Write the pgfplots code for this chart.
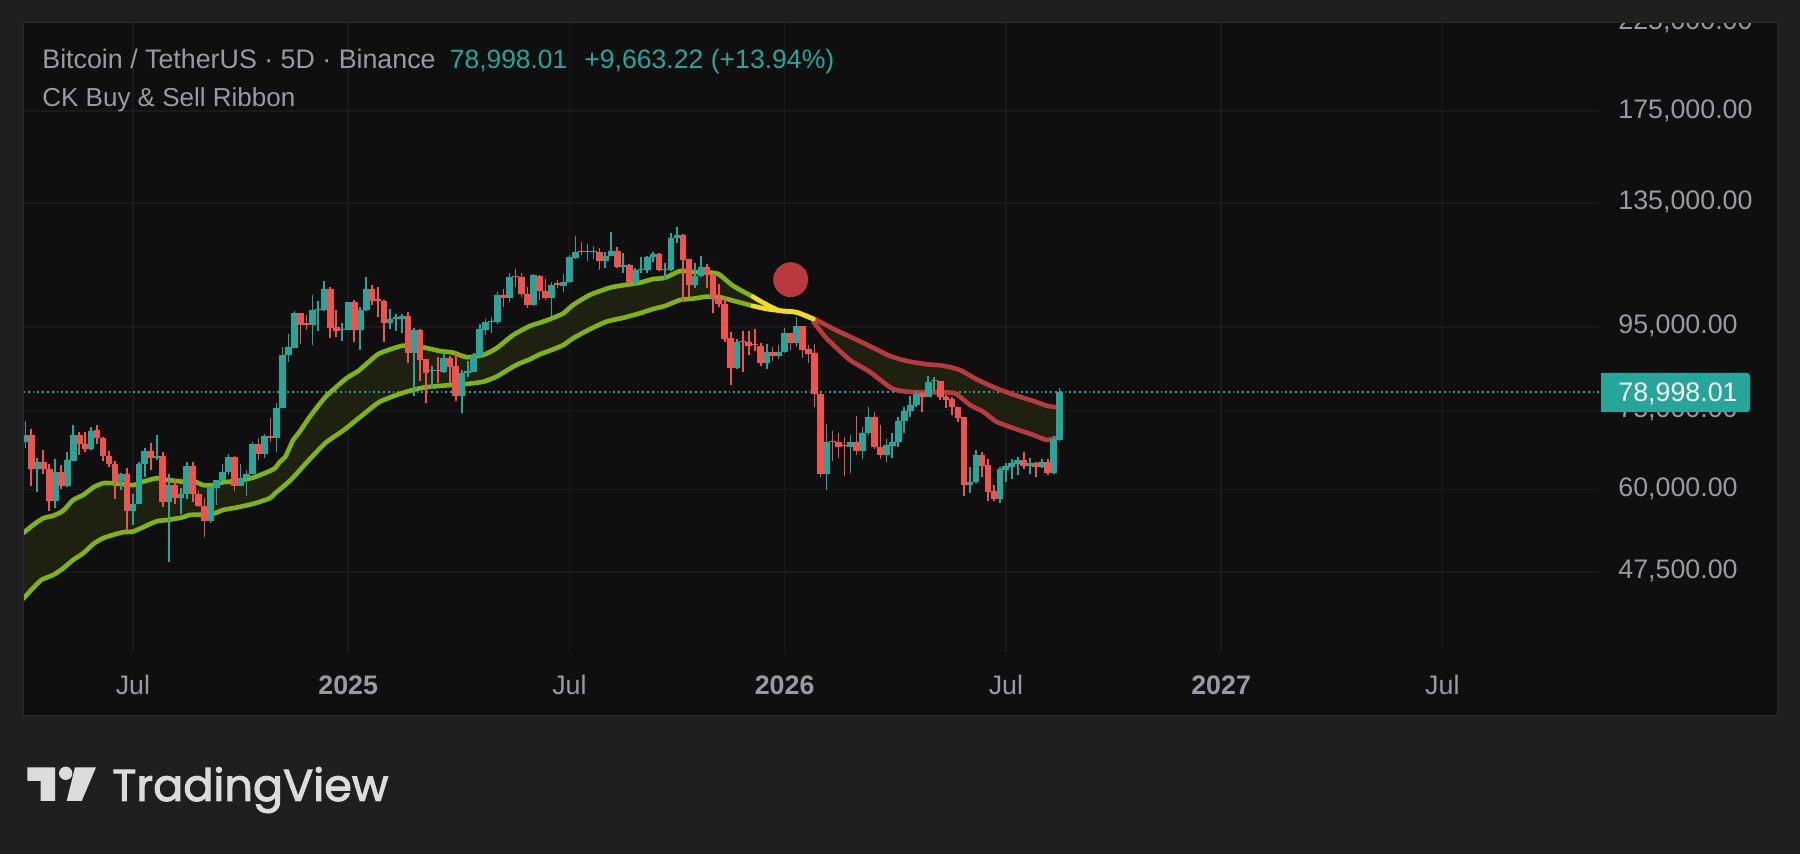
\documentclass[border=0pt]{standalone}
\usepackage{pgfplots}
\usepackage{pgfplotstable}
\usepackage{fontspec}
\pgfplotsset{compat=1.18}
\setmainfont{Liberation Sans}
\newfontfamily\tvfont[FakeBold=2.2]{Poppins}
\definecolor{outer}{HTML}{1F1F1F}
\definecolor{panel}{HTML}{0F0F0F}
\definecolor{gridc}{HTML}{1A1A1A}
\definecolor{edge}{HTML}{2B2B2B}
\definecolor{up}{HTML}{26A69A}
\definecolor{down}{HTML}{EF5350}
\definecolor{lime}{HTML}{7FB414}
\definecolor{ribfill}{HTML}{1E2010}
\definecolor{ribred}{HTML}{B83A3E}
\definecolor{ribyel}{HTML}{F5DC24}
\definecolor{lab}{HTML}{9A9AA2}
\definecolor{logo}{HTML}{DCDCDC}

% candles: bar, high, body top, body bottom, low
\pgfplotstableread{
i h t b l
0 72800 70000 68700 67500
2 65500 64800 63550 59600
5 65300 63000 58050 56900
7 66650 65150 60500 60450
8 71900 69950 65000 64950
11 71500 70850 67200 67075
16 62800 62650 61450 59900
18 59300 57600 56400 54200
19 64800 64450 57600 57550
20 67500 66950 64450 62100
22 70000 66000 65600 65200
24 62650 60750 57950 48850
26 60250 59200 58500 55950
27 64750 64100 59200 58450
31 60550 60350 54800 54500
32 61600 61600 60300 57350
33 64550 63100 61600 61550
34 66300 65800 63100 62500
36 64400 62000 60550 60500
37 63300 62700 62000 58900
38 68700 68300 62650 62600
40 70200 69800 66400 65500
42 76700 75600 69300 66750
43 89700 87750 75600 75550
44 93140 89700 87750 86100
45 99400 98750 89600 89450
48 104000 99600 95550 90300
49 102250 99850 99600 94000
50 108100 105800 99700 99500
53 96000 94450 94300 91300
54 102050 101950 94300 94250
56 100600 99700 94300 89100
57 109300 105800 99700 99500
61 99850 97050 96050 94550
62 98450 97700 97150 93900
63 98450 98000 97150 93300
65 94750 94200 88250 78150
68 85050 84100 83800 79700
70 88600 87100 83550 83300
73 84100 83300 78200 74550
74 86300 83900 83300 82500
75 88150 87450 83700 83650
76 95800 94400 87450 87200
77 97250 96450 94200 92800
78 97600 96700 96350 93300
79 104800 104000 96450 95800
81 110550 109300 103250 101950
85 110350 110050 101100 100900
88 107800 107000 103000 98100
90 110250 108000 106700 104900
91 116600 115800 108000 107500
92 122900 117550 115500 115050
94 120100 117650 117450 114600
95 119500 117900 117550 115250
97 117550 116200 114500 112350
98 124300 117900 116200 116100
100 117000 113200 112700 110550
102 112350 111600 107800 107000
103 115900 111950 111600 110550
104 116100 115800 111600 110750
105 117550 116900 115650 114300
107 113750 112050 111850 108500
108 123800 122100 111600 111400
109 125950 123250 122100 120600
112 113750 109850 107000 106000
113 116100 112550 109750 109550
119 91700 91050 84500 84450
124 90550 88400 85850 84350
126 90300 88600 87500 86700
127 94650 93300 88400 88150
129 97800 95350 90700 89850
134 72130 68600 62700 59900
138 70000 68600 67700 62900
140 71500 70300 66950 65450
141 75850 73700 70300 70000
144 69200 68000 66200 64900
145 70300 68600 67900 65600
146 73600 72900 68600 67600
147 75850 74900 72900 70450
148 78150 76200 74900 73700
149 79300 78600 76100 75850
151 82700 81200 78000 77850
152 82400 81700 81450 79350
158 64000 61300 60750 59400
159 67050 66100 61250 61150
163 63850 63500 58300 57650
164 64600 64100 63450 61250
165 65450 64650 63950 61850
166 65700 65150 64500 62500
168 65500 64700 64100 62700
170 65350 64850 63850 63700
172 69750 69200 62800 62700
173 79900 78998.01 69000 68800
}\upbars
\pgfplotstableread{
i h t b l
1 71100 70000 63550 60550
3 67100 64800 63550 62650
4 64550 63550 58050 56500
6 64200 63000 60500 60100
9 70500 69950 68200 66200
10 70500 68300 67200 66600
12 71900 70900 69400 68300
13 69500 69450 66000 65000
14 66950 66000 64500 64000
15 65000 64550 61450 58350
17 63800 62650 56400 53490
21 68400 66950 65600 63400
23 66700 66000 57950 57000
25 61700 60750 58500 57550
28 64800 64100 59200 57850
29 59800 59200 57250 57050
30 58500 57300 54800 52500
35 65900 65800 60600 59800
39 69300 68300 66400 65200
41 73400 69800 69300 68700
46 98750 98700 95640 90540
47 98200 96000 95650 94200
51 106300 105800 94850 92000
52 99700 95000 93900 92350
55 102536 101950 94300 90950
58 106900 105800 102350 101100
59 106300 102700 102350 97700
60 102450 102250 96050 91100
64 99200 98100 88250 85900
66 94400 94200 86500 81450
67 86700 86650 83400 76550
69 87200 84100 83800 81150
71 87500 87100 84900 81000
72 88150 85050 78200 77050
80 105700 104000 103250 100600
82 111950 109600 109300 106500
83 110550 109300 104200 103300
84 106500 104300 101200 100350
86 109950 109900 105300 102550
87 108700 105300 103000 102550
89 108400 107500 107100 106200
93 120700 117900 117450 116450
96 118700 117550 114500 111600
99 119050 117900 112450 112350
101 113500 113150 107900 107500
106 117100 116900 111500 111400
110 123600 123250 114800 102050
111 115050 115000 107000 103300
114 113450 112550 110050 106000
115 110350 110300 103000 98900
116 107250 103200 101400 100650
117 103850 101500 91800 91150
118 93650 92000 84500 80500
120 93900 91200 90950 83700
121 93800 91050 90100 87700
122 94400 90450 90200 88850
123 90700 90100 85850 85050
125 89700 88400 87500 86350
128 93350 93300 90850 89000
130 95350 95300 89000 87100
131 90300 89200 88000 85700
132 90550 88150 78600 75700
133 79100 78600 62700 62200
135 70850 68750 68550 65100
136 70300 68600 67700 65500
137 69650 67950 67750 62350
139 73900 68600 66950 66100
142 74600 73700 67600 67200
143 72000 67700 66200 65450
150 79100 78900 78000 74750
153 81550 81500 77850 77250
154 78400 77950 77250 75450
155 77850 77400 75700 74050
156 75850 75700 73450 72650
157 73700 73550 60750 58800
160 66750 66050 64100 62200
161 65400 64200 59600 58000
162 60750 59650 58300 58000
167 66750 65150 64100 63500
169 64900 64700 63850 62200
171 65350 64850 62800 62400
}\downbars

\pgfplotstableread{
i p
-0.38 53000
1.34 54260
3 55290
4.7 55700
6.35 56490
8 58228
9.7 59060
11.4 60360
13 61050
14.7 61050
16.4 60880
18 60710
19.7 61320
22 61920
23.9 61617
26.4 61320
28.1 61440
29.8 60710
31.4 60710
33.1 61220
35.3 61440
38.1 62020
40.9 63200
41.8 63750
42.6 64900
43.5 65820
44.8 69000
45.7 70320
47.6 73710
50.2 77930
53.7 82160
55.7 83880
58.8 87770
60.4 88830
63.2 90110
66.5 89700
69.3 88760
71.6 88340
73.8 87200
76.6 87770
78.8 89440
81.6 92870
84.4 95270
86.1 96170
87.7 97090
90 98750
91.6 101100
94.4 104000
97.8 106200
100 106900
102.8 107700
105 108800
107 109200
109.5 111300
111.7 111000
113.9 110900
115.9 110400
118.4 106700
121.7 103500
}\greenup
\pgfplotstableread{
i p
-0.38 44000
1 45139
2.7 46434
4.7 47100
6.35 47990
8 49137
9.7 50080
11.4 51420
13 52250
14.7 52750
16.4 53150
18 53240
19.7 53900
22 54820
23.9 55025
26.4 55450
27.5 55810
29.8 55860
31.4 55970
33.1 56604
35.3 56980
38.1 57580
40.9 58510
41.8 59350
44.4 61617
47 64660
50.2 68420
53.3 70980
57.1 74760
59.3 76900
63.2 78880
66.5 80000
69.9 80470
73.8 80850
76.6 81370
78.8 82540
81.6 84910
82.7 85700
84.4 86700
86.1 87950
87.7 88830
90 90270
91.6 92000
94.4 94380
97.2 96440
100 97500
102.8 98750
105 99960
107 100820
109.5 102536
111.7 102920
113.9 103500
116.2 103330
118.4 102330
121.7 100820
}\greenlo
\pgfplotstableread{
i p
121.7 103500
123.5 101670
126.2 99480
129 99030
131.8 97170
}\yelup
\pgfplotstableread{
i p
121.7 100820
124 99960
126.2 99480
129 99030
131.8 97170
}\yello
\pgfplotstableread{
i p
131.8 97370
135.2 94460
138.5 92010
141.2 90030
144.6 87520
147.4 86290
150.7 85490
153.5 85150
156.3 84113
159.1 81930
162.4 79870
165.8 78220
168.6 77050
170.8 76040
172.5 75690
}\redup
\pgfplotstableread{
i p
131.8 96430
134 92010
137.9 86527
141.2 83710
144.9 79870
147.4 79110
150.7 78970
154.1 78970
155.7 78600
158 76190
160.2 74750
162.4 72670
165.8 71120
168.6 69990
170.8 69000
172.5 69400
}\redlo
% ribbon band outlines: upper edge forward, lower edge back
\pgfplotstableread{
i p
-0.38 53000
1.34 54260
3 55290
4.7 55700
6.35 56490
8 58228
9.7 59060
11.4 60360
13 61050
14.7 61050
16.4 60880
18 60710
19.7 61320
22 61920
23.9 61617
26.4 61320
28.1 61440
29.8 60710
31.4 60710
33.1 61220
35.3 61440
38.1 62020
40.9 63200
41.8 63750
42.6 64900
43.5 65820
44.8 69000
45.7 70320
47.6 73710
50.2 77930
53.7 82160
55.7 83880
58.8 87770
60.4 88830
63.2 90110
66.5 89700
69.3 88760
71.6 88340
73.8 87200
76.6 87770
78.8 89440
81.6 92870
84.4 95270
86.1 96170
87.7 97090
90 98750
91.6 101100
94.4 104000
97.8 106200
100 106900
102.8 107700
105 108800
107 109200
109.5 111300
111.7 111000
113.9 110900
115.9 110400
118.4 106700
121.7 103500
123.5 101670
126.2 99480
129 99030
131.8 97170
131.8 97370
135.2 94460
138.5 92010
141.2 90030
144.6 87520
147.4 86290
150.7 85490
153.5 85150
156.3 84113
159.1 81930
162.4 79870
165.8 78220
168.6 77050
170.8 76040
172.5 75690
172.5 69400
170.8 69000
168.6 69990
165.8 71120
162.4 72670
160.2 74750
158 76190
155.7 78600
154.1 78970
150.7 78970
147.4 79110
144.9 79870
141.2 83710
137.9 86527
134 92010
131.8 96430
131.8 97170
129 99030
126.2 99480
124 99960
121.7 100820
118.4 102330
116.2 103330
113.9 103500
111.7 102920
109.5 102536
107 100820
105 99960
102.8 98750
100 97500
97.2 96440
94.4 94380
91.6 92000
90 90270
87.7 88830
86.1 87950
84.4 86700
82.7 85700
81.6 84910
78.8 82540
76.6 81370
73.8 80850
69.9 80470
66.5 80000
63.2 78880
59.3 76900
57.1 74760
53.3 70980
50.2 68420
47 64660
44.4 61617
41.8 59350
40.9 58510
38.1 57580
35.3 56980
33.1 56604
31.4 55970
29.8 55860
27.5 55810
26.4 55450
23.9 55025
22 54820
19.7 53900
18 53240
16.4 53150
14.7 52750
13 52250
11.4 51420
9.7 50080
8 49137
6.35 47990
4.7 47100
2.7 46434
1 45139
-0.38 44000
}\band

\begin{document}
\begin{tikzpicture}
\begin{scope}[x=0.5pt,y=-0.5pt,yshift=427pt]
  \useasboundingbox (0,0) rectangle (1800,854);
  \fill[outer] (0,0) rectangle (1800,854);
  \fill[panel] (23,23) rectangle (1777,716);
\end{scope}
\begin{axis}[
  at={(11.5pt,101pt)}, anchor=south west,
  scale only axis, width=788pt, height=314.8pt,
  xmin=-0.385, xmax=263.2,
  ymode=log, ymin=37877, ymax=225000,
  axis line style={draw=none},
  major tick length=0pt,
  grid=major,
  grid style={color=gridc,line width=0.75pt},
  xtick={18,54,91,127,164,200,237},
  xticklabels={Jul,\textbf{2025},Jul,\textbf{2026},Jul,\textbf{2027},Jul},
  xticklabel style={font=\fontsize{13.4}{15}\selectfont,text=lab,anchor=base,yshift=-21.5pt},
  ytick={47500,60000,75000,95000,135000,175000,225000},
  yticklabels={{47,500.00},{60,000.00},{75,000.00},{95,000.00},{135,000.00},{175,000.00},{225,000.00}},
  yticklabel pos=right,
  yticklabel style={font=\fontsize{13.4}{15}\selectfont,text=lab,anchor=base west,inner sep=0pt,xshift=9.5pt,yshift=-3.5pt},
  error bars/error mark=none,
]
\addplot[fill=ribfill,draw=none,forget plot] table[x=i,y=p]{\band} \closedcycle;
% last-price line
\addplot[up,line width=0.9pt,dash pattern=on 0.9pt off 1.5pt,forget plot] coordinates {(-0.385,78998.01)(263.2,78998.01)};
% ribbon lines
\addplot[lime,smooth,tension=0.35,line width=2.3pt,line join=round,line cap=round,forget plot] table[x=i,y=p]{\greenup};
\addplot[lime,smooth,tension=0.35,line width=2.3pt,line join=round,line cap=round,forget plot] table[x=i,y=p]{\greenlo};
\addplot[ribred,smooth,tension=0.35,line width=2.3pt,line join=round,line cap=round,forget plot] table[x=i,y=p]{\redup};
\addplot[ribred,smooth,tension=0.35,line width=2.3pt,line join=round,line cap=round,forget plot] table[x=i,y=p]{\redlo};
\addplot[ribyel,smooth,tension=0.35,line width=2.3pt,line join=round,line cap=round,forget plot] table[x=i,y=p]{\yelup};
\addplot[ribyel,smooth,tension=0.35,line width=2.3pt,line join=round,line cap=round,forget plot] table[x=i,y=p]{\yello};
% signal dot
\addplot[only marks,mark=*,mark size=9pt,mark options={draw=none,fill=ribred},forget plot] coordinates {(128,108600)};
% candles
\addplot[draw=none,forget plot,error bars/.cd,y dir=minus,y explicit,error bar style={draw=up,line width=0.8pt}]
  table[x=i,y=h,y error expr=\thisrow{h}-\thisrow{l}]{\upbars};
\addplot[draw=none,forget plot,error bars/.cd,y dir=minus,y explicit,error bar style={draw=up,line width=3.4pt}]
  table[x=i,y=t,y error expr=\thisrow{t}-\thisrow{b}]{\upbars};
\addplot[draw=none,forget plot,error bars/.cd,y dir=minus,y explicit,error bar style={draw=down,line width=0.8pt}]
  table[x=i,y=h,y error expr=\thisrow{h}-\thisrow{l}]{\downbars};
\addplot[draw=none,forget plot,error bars/.cd,y dir=minus,y explicit,error bar style={draw=down,line width=3.4pt}]
  table[x=i,y=t,y error expr=\thisrow{t}-\thisrow{b}]{\downbars};
\end{axis}
\begin{scope}[x=0.5pt,y=-0.5pt,yshift=427pt]
  % covers the top tick label above the panel
  \fill[outer] (0,0) rectangle (1800,23);
  \draw[edge,line width=0.5pt] (23,23) rectangle (1777,716);
  % price tag
  \fill[up,rounded corners=1.5pt] (1601,373) -- (1750,373) -- (1750,412) -- (1601,412) -- cycle;
  \fill[up] (1601,373) rectangle (1610,412);
  \node[anchor=base west,inner sep=0pt,text=white,font=\fontsize{13.4}{15}\selectfont] at (1618,402) {78,998.01};
  % legend
  \node[anchor=base west,inner sep=0pt,text=lab,font=\fontsize{13.4}{15}\selectfont] at (42,68.5) {Bitcoin / TetherUS · 5D · Binance};
  \node[anchor=base west,inner sep=0pt,text=up,font=\fontsize{13.2}{15}\selectfont] at (449.5,68.5) {78,998.01};
  \node[anchor=base west,inner sep=0pt,text=up,font=\fontsize{13.3}{15}\selectfont] at (584,68.5) {+9,663.22 (+13.94\%)};
  \node[anchor=base west,inner sep=0pt,text=lab,font=\fontsize{13}{15}\selectfont] at (42,107) {CK Buy \& Sell Ribbon};
  % TradingView mark
  \fill[logo] (27.3,767.3) -- (55,767.3) -- (55,801) -- (40.7,801) -- (40.7,781) -- (27.3,781) -- cycle;
  \fill[logo] (65.7,773.3) circle (6.7);
  \fill[logo] (75,767.3) -- (96,767.3) -- (81.7,801) -- (66.7,801) -- cycle;
  \node[anchor=base west,inner sep=0pt,text=logo,font=\tvfont\fontsize{22.3}{26}\selectfont] at (112,801) {TradingView};
\end{scope}
\end{tikzpicture}
\end{document}
